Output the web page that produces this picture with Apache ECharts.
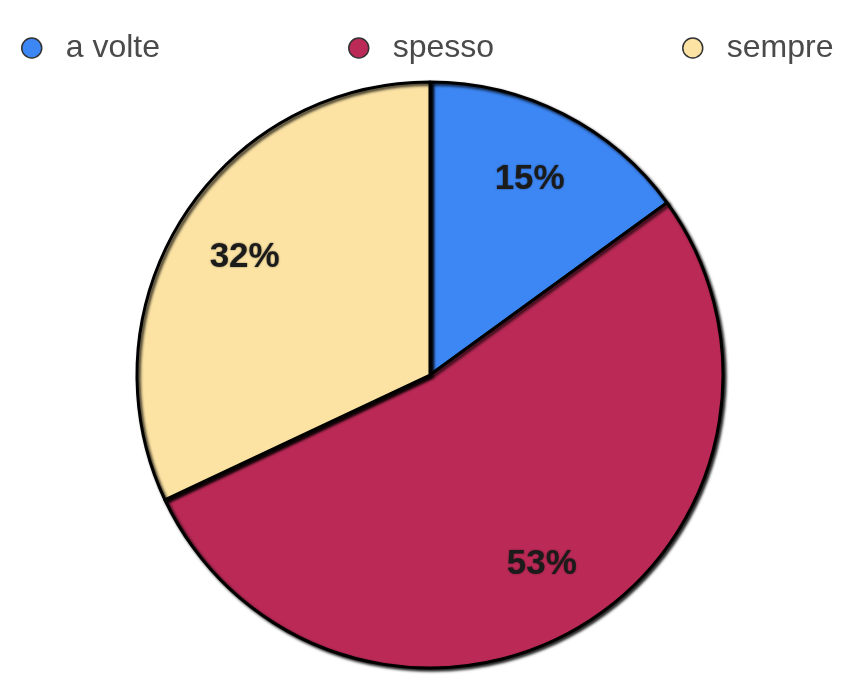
<!DOCTYPE html>
<html>
<head>
<meta charset="utf-8">
<script src="https://cdn.jsdelivr.net/npm/echarts@6/dist/echarts.min.js"></script>
<style>
html,body{margin:0;padding:0;background:#fff;}
#c{width:841px;height:675px;}
</style>
</head>
<body>
<div id="c"></div>
<script>
const categories = ['a volte', 'spesso', 'sempre'];
const values = [15, 53, 32];
const colors = ['#3d87f5', '#bb2a56', '#fce3a4'];

const chart = echarts.init(document.getElementById('c'), null, {renderer: 'canvas'});

const pieData = categories.map((n, i) => ({name: n, value: values[i], itemStyle: {color: colors[i]}}));
const labelData = categories.map((n, i) => ({name: n, value: values[i]}));

function legendFor(name, left) {
  return {
    data: [name],
    left: left,
    top: 27,
    icon: 'circle',
    itemWidth: 58,
    itemHeight: 20,
    itemStyle: {borderWidth: 1.5, borderColor: '#333'},
    textStyle: {fontSize: 32, color: '#4a4a4a', fontFamily: 'Liberation Sans, Arial, sans-serif'},
    selectedMode: false
  };
}

chart.setOption({
  animation: false,
  backgroundColor: '#fff',
  legend: [
    legendFor(categories[0], 16),
    legendFor(categories[1], 343),
    legendFor(categories[2], 677)
  ],
  series: [
    {
      type: 'pie',
      center: [430, 375],
      radius: [0, 293],
      startAngle: 90,
      clockwise: true,
      label: {show: false},
      labelLine: {show: false},
      itemStyle: {
        borderColor: '#000', borderWidth: 3,
        shadowColor: 'rgba(0,0,0,0.85)', shadowBlur: 3, shadowOffsetX: 2, shadowOffsetY: 2
      },
      emphasis: {disabled: true},
      data: pieData
    },
    {
      type: 'pie',
      center: [430, 375],
      radius: [140, 293],
      startAngle: 90,
      clockwise: true,
      silent: true,
      z: 5,
      itemStyle: {color: 'rgba(0,0,0,0)', borderWidth: 0},
      label: {
        show: true,
        position: 'inside',
        formatter: p => p.value + '%',
        fontSize: 35,
        fontWeight: 'bold',
        color: '#1b1b1b',
        fontFamily: 'Liberation Sans, Arial, sans-serif',
        textShadowColor: 'rgba(0,0,0,0.5)',
        textShadowBlur: 2
      },
      labelLine: {show: false},
      emphasis: {disabled: true},
      data: labelData
    }
  ]
});
</script>
</body>
</html>
